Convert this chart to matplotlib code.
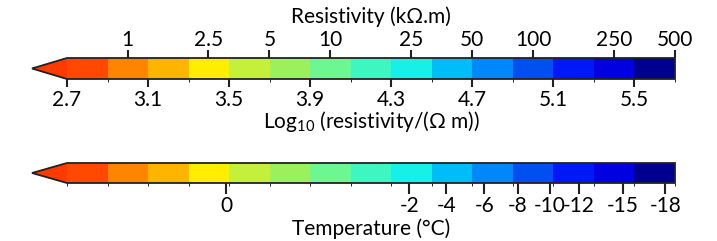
import numpy as np
import matplotlib
matplotlib.use("Agg")
import matplotlib.pyplot as plt
from matplotlib.colors import ListedColormap, BoundaryNorm
from matplotlib.cm import ScalarMappable

plt.rcParams['font.family'] = ['Lato', 'DejaVu Sans']
plt.rcParams['mathtext.fontset'] = 'custom'
plt.rcParams['mathtext.rm'] = 'Lato'
plt.rcParams['mathtext.default'] = 'regular'

# ---- data ----
log_bounds = [2.7, 2.9, 3.1, 3.3, 3.5, 3.7, 3.9, 4.1, 4.3, 4.5, 4.7, 4.9, 5.1, 5.3, 5.5, 5.7]
seg_colors = ['#FF4800', '#FF8400', '#FFB400', '#FFEE00', '#C4F03C', '#9CF05C',
              '#6CF790', '#3EF6C0', '#16F0E6', '#00BCF8', '#0088FA', '#0050F0',
              '#0018F8', '#0000E0', '#000090']
under_color = '#FF3A00'
log_ticks = [2.7, 3.1, 3.5, 3.9, 4.3, 4.7, 5.1, 5.5]
log_labels = ['2.7', '3.1', '3.5', '3.9', '4.3', '4.7', '5.1', '5.5']
res_ticks = [1, 2.5, 5, 10, 25, 50, 100, 250, 500]          # kOhm.m
res_labels = ['1', '2.5', '5', '10', '25', '50', '100', '250', '500']
temp_pos = [3.485, 4.389, 4.572, 4.760, 4.923, 5.081, 5.224, 5.441, 5.653]  # on log10 scale
temp_labels = ['0', '-2', '-4', '-6', '-8', '-10', '-12', '-15', '-18']

W, H = 717, 241
fig = plt.figure(figsize=(W / 100, H / 100), dpi=100)

cmap = ListedColormap(seg_colors)
cmap.set_under(under_color)
norm = BoundaryNorm(log_bounds, cmap.N)

ext_px = 35
bar_px = 608
left_px = 67 - ext_px
fs = 15
edge = '#222222'

def make_bar(top_px, h_px):
    cax = fig.add_axes([left_px / W, 1 - (top_px + h_px) / H, (bar_px + ext_px) / W, h_px / H])
    sm = ScalarMappable(norm=norm, cmap=cmap)
    cb = fig.colorbar(sm, cax=cax, orientation='horizontal', extend='min',
                      extendfrac=ext_px / bar_px, boundaries=log_bounds,
                      spacing='proportional', drawedges=False)
    cb.outline.set_linewidth(1.3)
    cb.outline.set_edgecolor(edge)
    return cb

# top bar
cb1 = make_bar(58, 21)
cb1.set_ticks(log_ticks, labels=log_labels)
cb1.ax.tick_params(axis='x', direction='out', length=6, width=1.5, color=edge,
                   labelsize=fs, pad=2)
cb1.ax.set_xlabel('Log$_{10}$ (resistivity/(\u03a9 m))', fontsize=fs, labelpad=-1)

def fwd(x):
    return 10 ** np.asarray(x, dtype=float) / 1000.0

def inv(y):
    y = np.maximum(np.asarray(y, dtype=float), 1e-12)
    return np.log10(y * 1000.0)

sec = cb1.ax.secondary_xaxis('top', functions=(fwd, inv))
sec.set_xticks(res_ticks, labels=res_labels)
sec.tick_params(axis='x', direction='out', length=6, width=1.5, color=edge,
                labelsize=fs, pad=0)
sec.set_xlabel('Resistivity (k\u03a9.m)', fontsize=fs, labelpad=5)
for s in sec.spines.values():
    s.set_visible(False)

# bottom bar
cb2 = make_bar(163, 20)
cb2.set_ticks(temp_pos, labels=temp_labels)
cb2.ax.tick_params(axis='x', direction='out', length=8, width=1.5, color=edge,
                   labelsize=fs, pad=1)
cb2.ax.set_xlabel('Temperature (\u00b0C)', fontsize=fs, labelpad=2)

fig.savefig('out.png', dpi=100)
